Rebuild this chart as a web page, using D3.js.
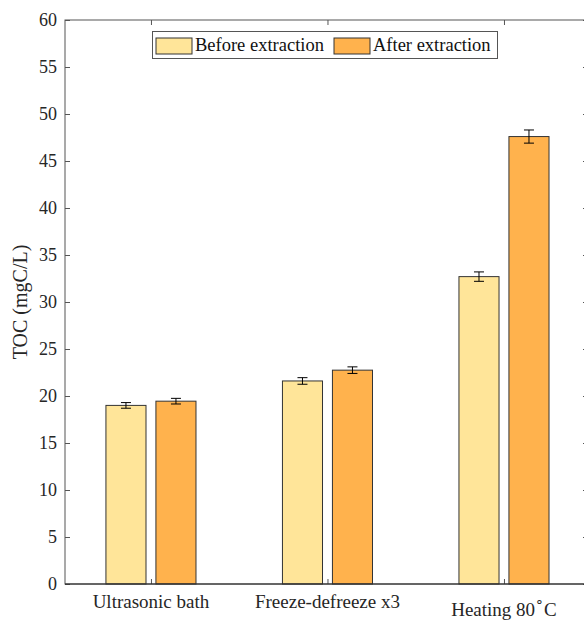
<!DOCTYPE html>
<html><head><meta charset="utf-8">
<script src="https://cdn.jsdelivr.net/npm/d3@7"></script>
<style>body{margin:0;background:#fff}svg{display:block;font-family:"Liberation Serif","Times New Roman",serif}</style>
</head><body><svg id="c" width="584" height="621"></svg>
<script>
const categories = ["Ultrasonic bath", "Freeze-defreeze x3", "Heating 80"];
const seriesNames = ["Before extraction", "After extraction"];
const beforeValues = [19.0, 21.6, 32.7];
const afterValues = [19.45, 22.75, 47.6];
const beforeErr = [0.3, 0.35, 0.5];
const afterErr = [0.3, 0.35, 0.7];
const yTicks = [0,5,10,15,20,25,30,35,40,45,50,55,60];
const colors = ["#FFE599", "#FFB24D"];

const svg = d3.select("#c");
const L = 65, R = 588, T = 20, B = 584;
const x = d3.scaleLinear().domain([0.513, 3.476]).range([L, R]);
const y = d3.scaleLinear().domain([0, 60]).range([B, T]);
const barW = x(1.227) - x(1);
const off = x(1.1416) - x(1);
const axisCol = "#555";
const txtCol = "#262626";

// bars
const series = [beforeValues, afterValues];
const errs = [beforeErr, afterErr];
series.forEach((vals, s) => {
  const g = svg.append("g");
  vals.forEach((v, i) => {
    const cx = x(i + 1) + (s === 0 ? -off : off);
    g.append("rect").attr("x", cx - barW/2).attr("y", y(v)).attr("width", barW).attr("height", y(0) - y(v))
      .attr("fill", colors[s]).attr("stroke", "#333").attr("stroke-width", 1);
    const e = errs[s][i];
    g.append("line").attr("x1", cx).attr("x2", cx).attr("y1", y(v + e)).attr("y2", y(v - e)).attr("stroke", "#000");
    [v + e, v - e].forEach(t => g.append("line").attr("x1", cx - 5).attr("x2", cx + 5).attr("y1", y(t)).attr("y2", y(t)).attr("stroke", "#000"));
  });
});

// axes box
const yAxis = d3.axisLeft(y).tickValues(yTicks).tickSize(-5).tickPadding(8);
const gy = svg.append("g").attr("transform", `translate(${L},0)`).call(yAxis);
gy.select(".domain").remove();
gy.selectAll("line").attr("stroke", axisCol);
gy.selectAll("text").attr("font-size", 18).attr("fill", txtCol).attr("font-family", "Liberation Serif");
const yAxisR = d3.axisRight(y).tickValues(yTicks).tickSize(-5).tickFormat("");
const gyr = svg.append("g").attr("transform", `translate(${R},0)`).call(yAxisR);
gyr.select(".domain").remove();
gyr.selectAll("line").attr("stroke", axisCol);

const xAxis = d3.axisBottom(x).tickValues([1,2,3]).tickSize(-5).tickFormat("");
const gx = svg.append("g").attr("transform", `translate(0,${B})`).call(xAxis);
gx.select(".domain").remove();
gx.selectAll("line").attr("stroke", axisCol);
const xAxisT = d3.axisTop(x).tickValues([1,2,3]).tickSize(-5).tickFormat("");
const gxt = svg.append("g").attr("transform", `translate(0,${T})`).call(xAxisT);
gxt.select(".domain").remove();
gxt.selectAll("line").attr("stroke", axisCol);

svg.append("rect").attr("x", L).attr("y", T).attr("width", R - L).attr("height", B - T)
  .attr("fill", "none").attr("stroke", axisCol).attr("stroke-width", 1);
svg.append("line").attr("x1", L).attr("x2", R).attr("y1", B).attr("y2", B).attr("stroke", "#222").attr("stroke-width", 1.2);

// x labels
categories.forEach((c, i) => {
  if (i < 2) {
    svg.append("text").attr("x", x(i + 1)).attr("y", 608).attr("text-anchor", "middle")
      .attr("font-size", 19).attr("fill", txtCol).text(c);
  } else {
    const t = svg.append("text").attr("x", x(i + 1)).attr("y", 616).attr("text-anchor", "middle")
      .attr("font-size", 19).attr("fill", txtCol);
    t.append("tspan").text(c);
    t.append("tspan").attr("dy", -10).attr("font-size", 14).text("\u2218");
    t.append("tspan").attr("dy", 10).text("C");
  }
});

// y label
svg.append("text").attr("transform", `translate(27,${(T + B) / 2}) rotate(-90)`).attr("text-anchor", "middle")
  .attr("font-size", 20).attr("fill", txtCol).text("TOC (mgC/L)");

// legend
const lg = svg.append("g");
lg.append("rect").attr("x", 152.5).attr("y", 31.5).attr("width", 345).attr("height", 27).attr("fill", "#fff").attr("stroke", "#555");
const legX = [156, 334];
seriesNames.forEach((n, s) => {
  lg.append("rect").attr("x", legX[s]).attr("y", 38).attr("width", 36).attr("height", 16).attr("fill", colors[s]).attr("stroke", "#333");
  lg.append("text").attr("x", legX[s] + 39).attr("y", 51).attr("font-size", 18.5).attr("fill", "#111").text(n);
});
</script></body></html>
